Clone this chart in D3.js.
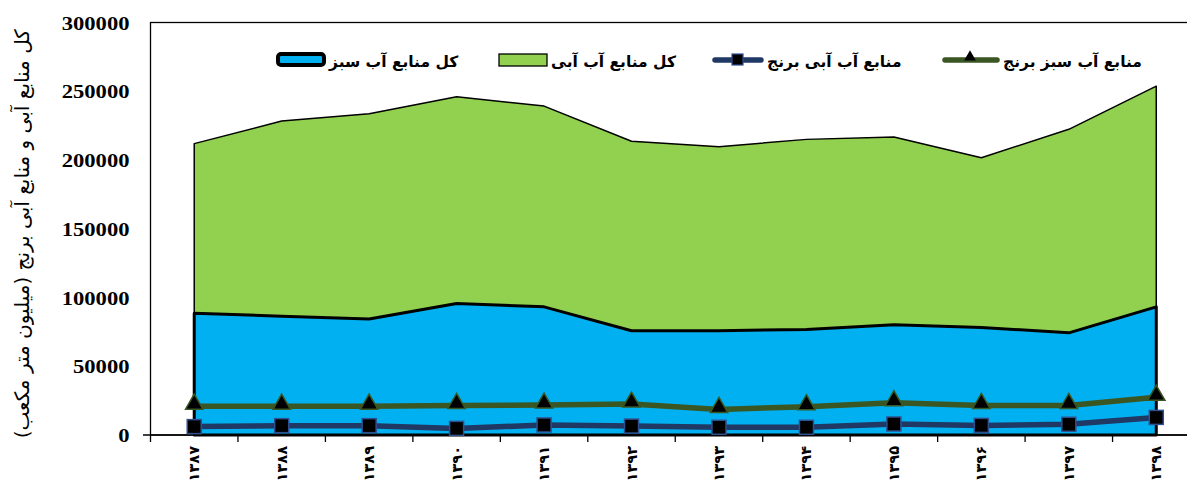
<!DOCTYPE html>
<html><head><meta charset="utf-8">
<script src="https://cdn.jsdelivr.net/npm/d3@7"></script>
<style>
html,body{margin:0;padding:0;background:#fff;}
svg{display:block;}
</style></head>
<body>
<svg id="chart" width="1187" height="492"></svg>
<script>
const years = ["۱۳۸۷","۱۳۸۸","۱۳۸۹","۱۳۹۰","۱۳۹۱","۱۳۹۲","۱۳۹۳","۱۳۹۴","۱۳۹۵","۱۳۹۶","۱۳۹۷","۱۳۹۸"];
const totalBlueWater = [211900,228300,233700,246000,239200,213600,209700,215000,216700,201700,222300,253700];
const totalGreenWater = [88600,86400,84300,95700,93200,75800,75800,76800,80100,78200,74300,93200];
const riceGreenWater = [21000,21000,21000,21500,21800,22500,18600,20600,23500,21500,21500,27400];
const riceBlueWater = [6100,6800,6800,4800,7300,6500,5600,5600,8000,7000,7800,12800];
const yTicks = [0,50000,100000,150000,200000,250000,300000];
const seriesNames = ["کل منابع آب سبز","کل منابع آب آبی","منابع آب آبی برنج","منابع آب سبز برنج"];
const yTitle = "کل منابع آبی و منابع آبی برنج (میلیون متر مکعب)";

const svg = d3.select("#chart");
const L = 150.5, R = 1200, T = 22.5, B = 435;
const x = d3.scaleBand().domain(years).range([L, R]);
const cx = d => x(d) + x.bandwidth()/2;
const y = d3.scaleLinear().domain([0,300000]).range([B, T]);

// plot border
svg.append("rect").attr("x",L).attr("y",T).attr("width",R-L).attr("height",B-T)
  .attr("fill","none").attr("stroke","#000").attr("stroke-width",1.3);

const area = d3.area().x((d,i)=>cx(years[i])).y0(y(0)).y1(d=>y(d));
svg.append("path").attr("d",area(totalBlueWater)+"Z")
  .attr("fill","#92D050").attr("stroke","#000").attr("stroke-width",1.5).attr("stroke-linejoin","round");
svg.append("path").attr("d",area(totalGreenWater)+"Z")
  .attr("fill","#00B0F0").attr("stroke","#000").attr("stroke-width",3).attr("stroke-linejoin","round");

// x axis
const gx = svg.append("g").attr("transform",`translate(0,${B})`);
gx.append("line").attr("x1",143).attr("x2",R).attr("y1",0).attr("y2",0).attr("stroke","#000").attr("stroke-width",1.5);
gx.selectAll("line.tk").data(years.concat(["end"])).join("line").attr("class","tk")
  .attr("x1",(d,i)=> i<years.length ? x(d) : R).attr("x2",(d,i)=> i<years.length ? x(d) : R)
  .attr("y1",0).attr("y2",7).attr("stroke","#000").attr("stroke-width",1.3);
gx.selectAll("text").data(years).join("text")
  .attr("transform",d=>`translate(${cx(d)+5},11) rotate(-90)`)
  .attr("text-anchor","end")
  .attr("font-family","DejaVu Sans").attr("font-weight","bold").attr("font-size",14.5)
  .text(d=>d);

// y axis labels
const gy = svg.append("g").attr("transform",`translate(${L},0)`);
const yAxis = d3.axisLeft(y).tickValues(yTicks).tickSize(0).tickPadding(21).tickFormat(d=>d);
gy.call(yAxis);
gy.select(".domain").remove();
gy.selectAll("text").attr("font-family","Liberation Serif").attr("font-weight","bold").attr("font-size",19.5).attr("fill","#000").attr("dy","0.34em")
  .attr("textLength",d=>String(d).length*11.3).attr("lengthAdjust","spacingAndGlyphs");

// y title
svg.append("text").attr("transform",`translate(29,${(T+B)/2+5}) rotate(-90)`)
  .attr("text-anchor","middle").attr("direction","rtl")
  .attr("font-family","DejaVu Sans").attr("font-size",20)
  .text(yTitle);

// lines
const line = d3.line().x((d,i)=>cx(years[i])).y(d=>y(d));
svg.append("path").attr("d",line(riceGreenWater)).attr("fill","none").attr("stroke","#3A5623").attr("stroke-width",5.5);
svg.append("path").attr("d",line(riceBlueWater)).attr("fill","none").attr("stroke","#203864").attr("stroke-width",5.5);
const tri = d3.symbol().type(d3.symbolTriangle).size(130);
svg.append("g").selectAll("path").data(riceGreenWater).join("path")
  .attr("transform",(d,i)=>`translate(${cx(years[i])},${y(d)-2})`).attr("d",tri())
  .attr("fill","#000").attr("stroke","#3A5623").attr("stroke-width",1.5);
svg.append("g").selectAll("rect").data(riceBlueWater).join("rect")
  .attr("x",(d,i)=>cx(years[i])-7).attr("y",d=>y(d)-7).attr("width",14).attr("height",14)
  .attr("fill","#000").attr("stroke","#2F4F8F").attr("stroke-width",1.5);

// legend
const lg = svg.append("g");
lg.append("rect").attr("x",278).attr("y",54).attr("width",46).attr("height",11).attr("rx",3)
  .attr("fill","#00B0F0").attr("stroke","#000").attr("stroke-width",4);
lg.append("rect").attr("x",499).attr("y",54).attr("width",48).attr("height",12)
  .attr("fill","#92D050").attr("stroke","#000").attr("stroke-width",1.3);
lg.append("line").attr("x1",715).attr("x2",761).attr("y1",60).attr("y2",60).attr("stroke","#203864").attr("stroke-width",5.5).attr("stroke-linecap","round");
lg.append("rect").attr("x",732).attr("y",54).attr("width",11).attr("height",11).attr("fill","#000").attr("stroke","#2F4F8F").attr("stroke-width",1.2);
lg.append("line").attr("x1",945).attr("x2",997).attr("y1",60).attr("y2",60).attr("stroke","#3A5623").attr("stroke-width",5.5).attr("stroke-linecap","round");
lg.append("path").attr("transform","translate(970,57)").attr("d",d3.symbol().type(d3.symbolTriangle).size(60)()).attr("fill","#000");

const legX = [329,551,767,1003];
lg.selectAll("text.lt").data(seriesNames).join("text").attr("class","lt")
  .attr("x",(d,i)=>legX[i]).attr("y",62).attr("text-anchor","end").attr("direction","rtl")
  .attr("font-family","DejaVu Sans").attr("font-size",15.5).attr("font-weight","bold").attr("dy","0.35em").text(d=>d);
</script>
</body></html>
